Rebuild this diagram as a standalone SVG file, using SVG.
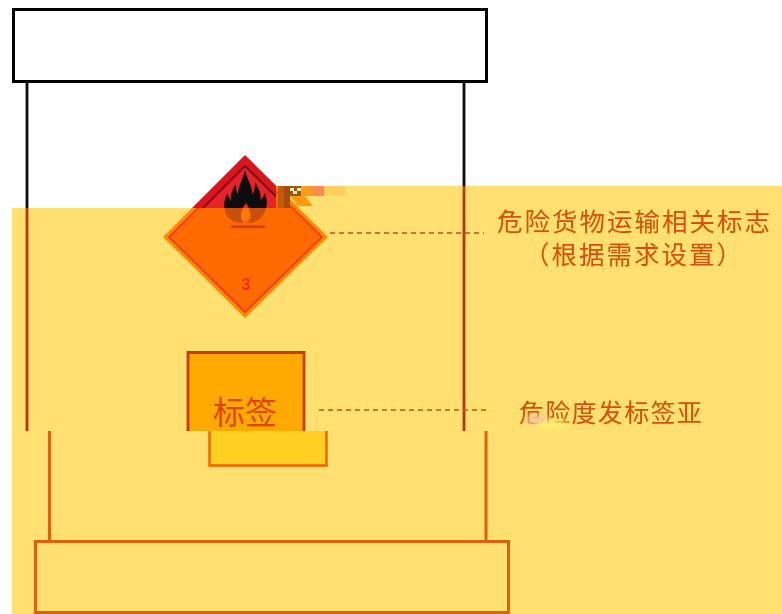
<svg xmlns="http://www.w3.org/2000/svg" width="782" height="614" viewBox="0 0 782 614">
<style>
.t{font-family:"Liberation Sans","Noto Sans CJK SC",sans-serif;fill:#DC4E08;font-weight:400}
.dash{fill:none;stroke:#C0560F;stroke-width:1.4;stroke-dasharray:5 4}
.or{fill:none;stroke:#E0600A;stroke-width:3}
</style>
<defs>
<filter id="soft" x="-5%" y="-5%" width="110%" height="110%"><feGaussianBlur stdDeviation="0.45"/></filter>
<filter id="blot" x="-30%" y="-60%" width="160%" height="220%"><feGaussianBlur stdDeviation="2"/></filter>
<clipPath id="upper"><path d="M150 140H278V186H300V208H150Z"/></clipPath>
<clipPath id="lower"><path d="M150 208H340V330H150Z"/><path d="M276 186H340V208H276Z"/></clipPath>
<path id="flame" d="M245 170C247 180 253 186 252 194C255 191 255 187 255 182C259 189 262 194 260 200C262 198 264 196 265 193C268 201 267 208 264 214C259 221 253 223 248 223C252 217 252 212 246 203C241 210 239 216 243 223C235 223 229 220 226 214C223 207 224 200 227 194C229 197 230 199 231 201C230 195 233 188 236 183C236 188 236 191 238 194C238 186 243 179 245 170Z"/>
</defs>
<rect width="782" height="614" fill="#fff"/>
<g id="background">
<path d="M12 208H298L276 186H782V614H12Z" fill="#FFE070"/>
</g>
<g filter="url(#soft)">
<g id="cap"><rect x="13.500" y="9.500" width="473" height="72" fill="#fff" stroke="#000" stroke-width="3"/></g>
<g id="body">
<path d="M27 81V208M464 81V186" fill="none" stroke="#111" stroke-width="2.800"/>
<path d="M27 208V431M464 186V431" fill="none" stroke="#B83508" stroke-width="2.800"/>
</g>
<g id="placard">
<g clip-path="url(#upper)">
<path d="M245 155L328 237L245 318L163 237Z" fill="#D8181F"/>
<path d="M245 166L317 237L245 307L174 237Z" fill="#E8202A" stroke="#7A1012" stroke-width="2"/>
<use href="#flame" fill="#111"/>
</g>
<g clip-path="url(#lower)">
<path d="M245 155L328 237L245 318L163 237Z" fill="#FF8A00"/>
<path d="M245 161L322 237L245 312L169 237Z" fill="#FF6A00" stroke="#F23C10" stroke-width="1.800"/>
<use href="#flame" fill="#C8500A"/>
<path d="M246 207C240 213 239 218 245 221C251 218 251 213 246 207Z" fill="#FF7A10"/>
<rect x="231" y="225.500" width="34" height="2.600" fill="#D23C08"/>
<text x="246" y="290" text-anchor="middle" font-family="Liberation Sans, sans-serif" font-size="16" font-weight="700" fill="#E8301A">3</text>
</g>
<g id="glitch">
<rect x="278" y="186" width="6" height="22" fill="#C05810"/>
<rect x="284" y="186" width="6" height="22" fill="#A84A10"/>
<rect x="290" y="186" width="11" height="10" fill="#8A5A20"/>
<rect x="301" y="186" width="12" height="10" fill="#FF9A20"/>
<rect x="313" y="186" width="11" height="10" fill="#FF8A50"/>
<rect x="324" y="186" width="21" height="10" fill="#FFCF60"/>
<path d="M290 196H305L313 206H298Z" fill="#FF9A10"/>
<path d="M290 188h4v3h-4zM297 188h4v3h-4zM293 191h4v3h-4z" fill="#FFE8A0"/>
</g>
</g>
<g id="connectors">
<path class="dash" d="M330 233H484"/>
<path class="dash" d="M319 410H488"/>
</g>
<g id="label">
<path d="M188 431V352.500H304V431" fill="#FFAA00" stroke="#C83A08" stroke-width="2.800"/>
<text class="t" x="245" y="424" text-anchor="middle" font-size="32" style="fill:#E8400A">标签</text>
</g>
<g id="tray"><rect x="209" y="431" width="118" height="35" fill="#FFD020"/><path d="M209.500 431V465.500H326.500V431" fill="none" stroke="#F46008" stroke-width="2.400"/></g>
<g id="stand">
<path class="or" d="M49.500 431V541M486 431V541"/>
<rect class="or" x="35.500" y="541.500" width="473" height="71"/>
</g>
<g id="text-sign">
<text class="t" x="634.500" y="231" text-anchor="middle" font-size="25.500" letter-spacing="2">危险货物运输相关标志</text>
<text class="t" x="634" y="264" text-anchor="middle" font-size="25.500" letter-spacing="2">（根据需求设置）</text>
</g>
<g id="text-label">
<text class="t" x="611" y="422" text-anchor="middle" font-size="25" letter-spacing="1.300">危险度发标签亚</text>
<ellipse cx="537" cy="420" rx="11" ry="6" fill="#FFC8A0" opacity="0.800" filter="url(#blot)"/>
<ellipse cx="552" cy="425" rx="17" ry="5" fill="#FFF070" opacity="0.900" filter="url(#blot)"/>
</g>
</g>
</svg>
